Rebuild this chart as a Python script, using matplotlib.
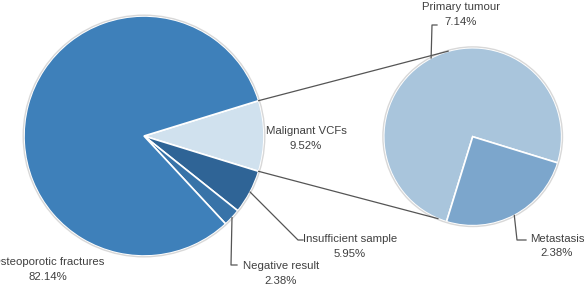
import matplotlib.pyplot as plt
import numpy as np

plt.rcParams['font.family'] = ['Liberation Sans', 'DejaVu Sans']

# main pie
main_labels = ['Malignant VCFs', 'Insufficient sample', 'Negative result', 'Osteoporotic fractures']
main_values = [9.52, 5.95, 2.38, 82.14]
main_colors = ['#d0e1ee', '#2f6496', '#3873a8', '#3e80ba']

# breakdown of malignant VCFs
sub_labels = ['Primary tumour', 'Metastasis']
sub_values = [7.14, 2.38]
sub_colors = ['#a9c5dc', '#7ca6cc']

W, H = 584, 284
fig = plt.figure(figsize=(W / 100, H / 100), dpi=100)
ax = fig.add_axes([0, 0, 1, 1])

c1, r1 = (144, 148), 120
c2, r2 = (472.7, 147.3), 89

# malignant slice centred on 0 deg
start1 = main_values[0] / 100 * 360 / 2
ax.pie(main_values, colors=main_colors, center=c1, radius=r1, startangle=start1,
       counterclock=False, wedgeprops=dict(edgecolor='white', linewidth=1.2), frame=True)

sub_frac = sub_values[0] / sum(sub_values)
start2 = -start1 + sub_frac * 360
ax.pie(sub_values, colors=sub_colors, center=c2, radius=r2, startangle=start2,
       counterclock=False, wedgeprops=dict(edgecolor='white', linewidth=1.2), frame=True)
ax.set_xlim(0, W)
ax.set_ylim(0, H)
ax.set_aspect('equal')
ax.axis('off')

# outlines
for c, r in [(c1, r1), (c2, r2)]:
    ax.add_patch(plt.Circle(c, r + 0.8, fill=False, ec='#d8d8d8', lw=1))


def pt(c, r, deg):
    a = np.deg2rad(deg)
    return c[0] + r * np.cos(a), c[1] + r * np.sin(a)


# connector lines between pies
lc = '#555555'
for a1, a2 in [(start1, 106), (-start1, -113)]:
    p, q = pt(c1, r1, a1), pt(c2, r2, a2)
    ax.plot([p[0], q[0]], [p[1], q[1]], color=lc, lw=0.9)

# wedge mid angles
ang = start1
mids1 = []
for v in main_values:
    d = v / 100 * 360
    mids1.append(ang - d / 2)
    ang -= d
ang = start2
mids2 = []
for v in sub_values:
    d = v / sum(sub_values) * 360
    mids2.append(ang - d / 2)
    ang -= d

fs = 8.2
tc = '#404040'


def label(text, x, y, **kw):
    ax.text(x, H - y, text, fontsize=fs, color=tc, ha='center', va='center',
            linespacing=1.55, **kw)


def leader(c, r, deg, pts):
    p = pt(c, r, deg)
    xs = [p[0]] + [x for x, _ in pts]
    ys = [p[1]] + [H - y for _, y in pts]
    ax.plot(xs, ys, color=lc, lw=0.9)


label(main_labels[0] + '\n%.2f%%' % main_values[0], 306, 138.5)
label(main_labels[1] + '\n%.2f%%' % main_values[1], 350, 246.5)
leader(c1, r1, mids1[1], [(298, 240), (303, 240)])
label(main_labels[2] + '\n%.2f%%' % main_values[2], 281, 273.5)
leader(c1, r1, mids1[2], [(231, 265), (237, 265)])
label(main_labels[3] + '\n%.2f%%' % main_values[3], 48, 269.5)

label(sub_labels[0] + '\n%.2f%%' % sub_values[0], 461, 14.5)
leader(c2, r2, mids2[0], [(432, 25), (437, 25)])
label(sub_labels[1] + '\n%.2f%%' % sub_values[1], 557, 246)
leader(c2, r2, mids2[1], [(517, 240), (526, 240)])

fig.savefig('out.png', dpi=100)
